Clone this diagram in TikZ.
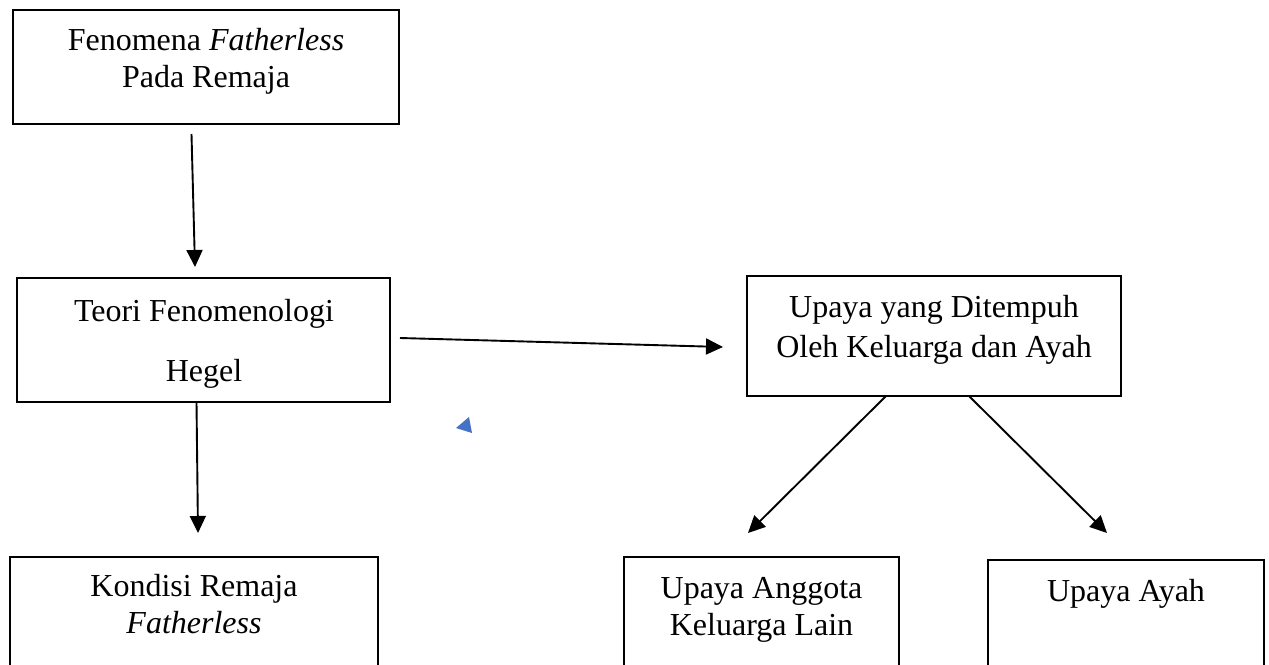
\documentclass[tikz,border=0pt]{standalone}
\usepackage{fontspec}
\setmainfont{Liberation Serif}
\usetikzlibrary{arrows.meta}
\definecolor{triblue}{RGB}{68,114,196}
\begin{document}
\begin{tikzpicture}[x=1pt,y=-1pt,
  box/.style={draw,line width=1.3pt,inner sep=0pt},
  lbl/.style={anchor=base,inner sep=0pt,font=\fontsize{32}{38}\selectfont},
  conn/.style={line width=1.9pt,-{Triangle[length=17pt,width=16pt]}}]
\useasboundingbox (0,0) rectangle (1269,664);
\clip (0,0) rectangle (1269,664);
\fill[white] (0,0) rectangle (1269,664);

% boxes
\node[box,minimum width=386pt,minimum height=114pt] (b1) at (206,67) {};
\node[box,minimum width=373pt,minimum height=124pt] (b2) at (203.5,340) {};
\node[box,minimum width=374pt,minimum height=120pt] (b3) at (934,336) {};
\node[box,minimum width=368pt,minimum height=133pt] (b4) at (194,623.5) {};
\node[box,minimum width=275pt,minimum height=133pt] (b5) at (761.5,623.5) {};
\node[box,minimum width=276pt,minimum height=130pt] (b6) at (1126,625) {};

% texts
\node[lbl] (t1a) at (206,50) {Fenomena \textit{Fatherless}};
\node[lbl] (t1b) at (206,87) {Pada Remaja};
\node[lbl] (t2a) at (204,321) {Teori Fenomenologi};
\node[lbl] (t2b) at (204,381) {Hegel};
\node[lbl] (t3a) at (934,317) {Upaya yang Ditempuh};
\node[lbl] (t3b) at (934,357) {Oleh Keluarga dan Ayah};
\node[lbl] (t4a) at (194,596) {Kondisi Remaja};
\node[lbl] (t4b) at (194,633) {\textit{Fatherless}};
\node[lbl] (t5a) at (761.5,598) {Upaya Anggota};
\node[lbl] (t5b) at (761.5,635) {Keluarga Lain};
\node[lbl] (t6a) at (1126,601) {Upaya Ayah};

% connector end points
\coordinate (a1s) at (191.5,134);
\coordinate (a1e) at (195,267);
\coordinate (a2s) at (196.5,402);
\coordinate (a2e) at (198,533);
\coordinate (a3s) at (400,338);
\coordinate (a3e) at (723,347);
\coordinate (a4s) at (886,396);
\coordinate (a4e) at (748,533);
\coordinate (a5s) at (969,396);
\coordinate (a5e) at (1107,533);

\draw[conn] (a1s) -- (a1e);
\draw[conn] (a2s) -- (a2e);
\draw[conn] (a3s) -- (a3e);
\draw[conn] (a4s) -- (a4e);
\draw[conn] (a5s) -- (a5e);

% stray blue triangle
\fill[triblue] (469,417) -- (456,428) -- (472,433) -- cycle;
\end{tikzpicture}
\end{document}
